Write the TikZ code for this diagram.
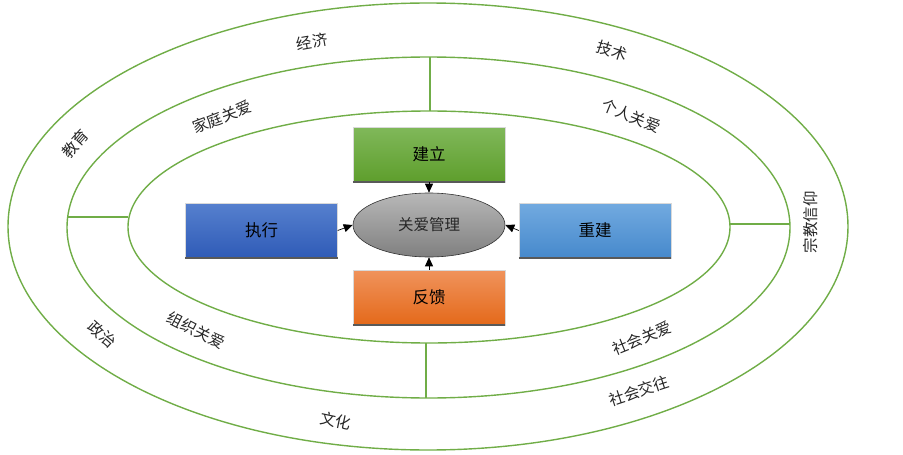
\documentclass[tikz,border=0pt]{standalone}
\usepackage{fontspec}
\newfontfamily\cjk{Noto Sans CJK SC}
\usetikzlibrary{shapes.geometric,arrows.meta}
\definecolor{ring}{HTML}{70AD47}
\definecolor{gtop}{HTML}{80B85A}
\definecolor{gbot}{HTML}{5E9E2C}
\definecolor{otop}{HTML}{F0935C}
\definecolor{obot}{HTML}{E4691A}
\definecolor{btop}{HTML}{5680CE}
\definecolor{bbot}{HTML}{2F5BB7}
\definecolor{ltop}{HTML}{72AAE0}
\definecolor{lbot}{HTML}{4689CC}
\tikzset{
  ringline/.style={draw=ring, line width=1.4pt},
  lbl/.style={font=\cjk\fontsize{15.5}{15.5}\selectfont, text=black!85, inner sep=0pt},
  box/.style={rectangle, minimum width=152pt, minimum height=55pt, inner sep=0pt,
    font=\cjk\fontsize{16.5}{16.5}\selectfont, text=black, draw=white!85!black, line width=0.4pt},
  shadowline/.style={draw=black!65, line width=2pt},
  arr/.style={-{Triangle[length=9pt,width=8pt]}, draw=black, line width=0.7pt},
}
\begin{document}
\begin{tikzpicture}[x=1pt,y=-1pt]
\useasboundingbox (0,0) rectangle (903,455);
% rings
\draw[ringline] (428,226.5) ellipse [x radius=420, y radius=223.5];
\draw[ringline] (428.5,227.5) ellipse [x radius=361.5, y radius=170.5];
\draw[ringline] (429,227) ellipse [x radius=301, y radius=116];
% dividers
\draw[ringline] (430,57) -- (430,111);
\draw[ringline] (426,343) -- (426,398);
\draw[ringline] (67,217) -- (128,217);
\draw[ringline] (730,224) -- (790,224);
% ring labels
\node[lbl, rotate=10] (l1) at (312,42) {经济};
\node[lbl, rotate=-18] (l2) at (612,51) {技术};
\node[lbl, rotate=48] (l3) at (75,144) {教育};
\node[lbl, rotate=90] (l4) at (811,222) {宗教信仰};
\node[lbl, rotate=-42] (l5) at (102,334) {政治};
\node[lbl, rotate=-12] (l6) at (336,421) {文化};
\node[lbl, rotate=18] (l7) at (639,391) {社会交往};
\node[lbl, rotate=21] (l8) at (222,117) {家庭关爱};
\node[lbl, rotate=-22] (l9) at (631,116) {个人关爱};
\node[lbl, rotate=-27] (l10) at (196,330) {组织关爱};
\node[lbl, rotate=22] (l11) at (642,338) {社会关爱};
% boxes
\node[box, top color=gtop, bottom color=gbot] (jl) at (429,154.5) {建立};
\node[box, top color=otop, bottom color=obot] (fk) at (429,297.5) {反馈};
\node[box, top color=btop, bottom color=bbot] (zx) at (261.5,230.5) {执行};
\node[box, top color=ltop, bottom color=lbot] (cj) at (595,230.5) {重建};
\foreach \b in {jl,fk,zx,cj}{
  \draw[shadowline] (\b.south west) -- (\b.south east);
}
% center
\node[ellipse, draw=black!80, line width=0.6pt, minimum width=152pt, minimum height=64pt,
  inner sep=0pt, top color=black!28, bottom color=black!50,
  font=\cjk\fontsize{15.5}{15.5}\selectfont, text=black!85] (c) at (429,225) {关爱管理};
% arrows
\draw[arr] (jl.south) -- (c.north);
\draw[arr] (fk.north) -- (c.south);
\draw[arr] (zx.east) -- (c.west);
\draw[arr] (cj.west) -- (c.east);
\end{tikzpicture}
\end{document}
